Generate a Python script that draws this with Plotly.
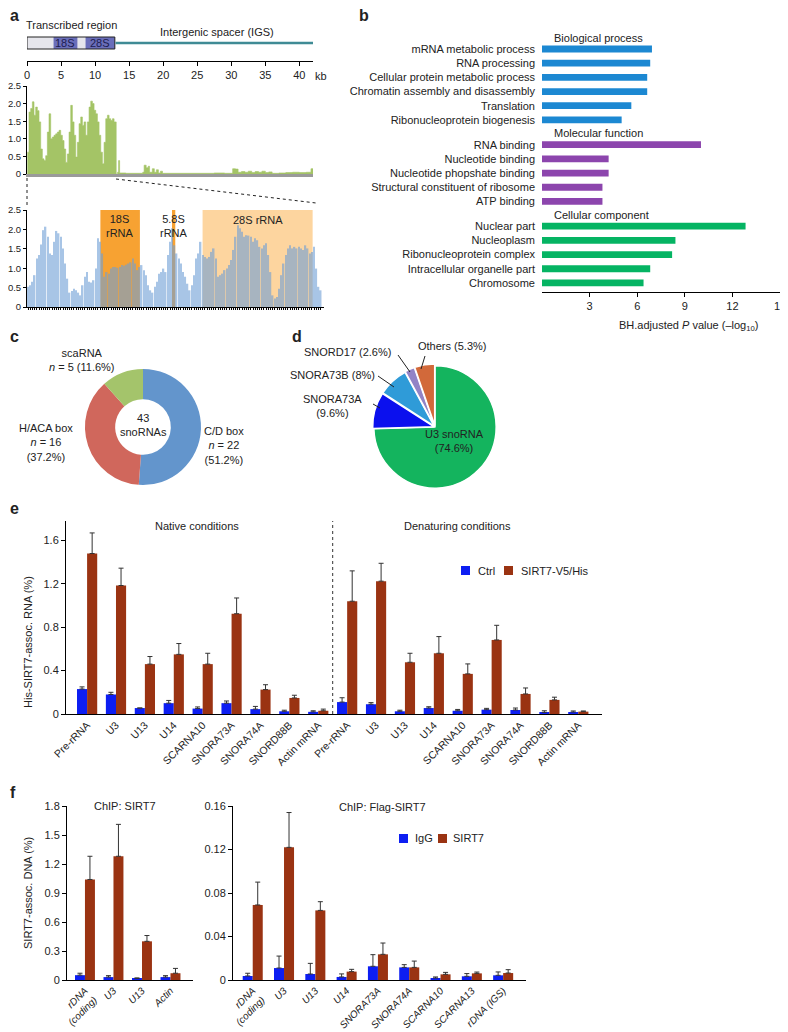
import plotly.graph_objects as go

# the page body keeps its default 8 px margin, so the figure is 8 px smaller and
# every reference pixel position is shifted by that much
OX, OY = 8, 8
W, H = 780, 1024
FONT = "Liberation Sans, Arial, sans-serif"
INK = "#222222"


def fx(px):
    return (px - OX) / W


def fy(py):
    return 1 - (py - OY) / H


# ---------------- panel a: rDNA repeat ----------------
map_tick_kb = [0, 5, 10, 15, 20, 25, 30, 35, 40]
transcribed_kb = [0, 12.9]
block_names = ["18S", "28S"]
block_start_kb = [3.9, 8.6]
block_end_kb = [7.4, 12.9]
igs_span_kb = [13, 42]

# coverage over the transcribed part (0.245 kb steps)
coverage_step_kb = 0.245
coverage_tr = [0.62, 1.76, 1.86, 2.05, 1.67, 1.90, 1.80, 1.48, 0.71, 0.43, 0.38, 0.52,
               1.19, 1.71, 1.00, 1.05, 1.10, 1.14, 1.19, 1.24, 1.10, 0.95, 0.71, 0.33,
               0.57, 1.19, 1.95, 1.48, 1.10, 0.48, 0.90, 1.43, 1.62, 1.38, 1.48, 1.10,
               1.48, 1.90, 2.07, 2.00, 1.81, 1.71, 1.48, 1.10, 0.62, 0.29, 0.90, 1.57,
               1.67, 1.57, 1.52, 1.57, 1.48, 1.48]
# coverage over the intergenic spacer
igs_kb = [13.1, 13.3, 13.45, 13.6, 14.5, 15.5, 16.5, 17.0, 17.2, 17.5, 17.8, 18.0, 18.4,
          18.7, 19.0, 19.3, 19.6, 19.9, 21.0, 23.0, 25.0, 27.5, 29.0, 30.2, 30.6, 31.0,
          31.5, 32.0, 32.5, 33.0, 33.5, 34.0, 34.5, 35.0, 35.5, 36.0, 37.0, 38.0, 39.0,
          40.0, 41.0, 41.7, 42.0]
igs_cov = [0.0, 0.05, 0.38, 0.03, 0.02, 0.02, 0.02, 0.05, 0.25, 0.18, 0.22, 0.05, 0.15,
           0.05, 0.12, 0.03, 0.08, 0.02, 0.02, 0.02, 0.02, 0.03, 0.02, 0.15, 0.14, 0.05,
           0.07, 0.05, 0.08, 0.04, 0.07, 0.05, 0.08, 0.04, 0.06, 0.02, 0.03, 0.04, 0.05,
           0.04, 0.05, 0.15, 0.03]

# zoom on the transcribed region, 0.1 kb bins
zoom_cov = [0.52, 0.56, 0.65, 0.82, 1.25, 1.34, 1.61, 1.98, 2.07, 1.81, 1.38, 1.34, 1.68,
            1.96, 1.90, 1.81, 1.51, 1.12, 0.73, 0.37, 0.41, 0.47, 0.43, 0.37, 0.30, 0.56,
            0.78, 0.90, 0.65, 0.63, 0.69, 0.99, 1.77, 1.68, 1.38, 0.78, 0.90, 0.86, 0.99,
            1.03, 1.03, 1.01, 1.03, 1.08, 1.06, 1.09, 1.12, 1.15, 1.25, 1.12, 0.95, 1.03,
            1.08, 0.95, 0.82, 0.56, 0.43, 0.37, 0.52, 0.65, 0.86, 0.90, 0.99, 0.90, 1.34,
            1.68, 2.03, 1.59, 1.38, 1.25, 1.12, 0.90, 0.78, 0.60, 0.43, 0.56, 0.82, 1.25,
            1.38, 1.68, 1.34, 1.29, 1.25, 1.29, 1.42, 1.51, 1.25, 0.78, 0.82, 0.86, 0.95,
            0.99, 1.08, 1.21, 1.47, 1.81, 2.11, 2.03, 1.94, 1.81, 1.85, 1.84, 1.81, 1.68,
            1.77, 1.72, 1.55, 1.51, 1.59, 1.64, 1.34, 0.90, 0.30, 0.22, 0.26, 0.47, 0.82,
            1.12, 1.34, 1.51, 1.59, 1.51, 1.55, 1.51, 1.55, 1.51, 1.47, 1.59, 1.51, 1.38,
            1.42, 1.55, 0.99, 0.52, 0.43]
rrna_labels = ["18S<br>rRNA", "5.8S<br>rRNA", "28S rRNA"]
rrna_start_kb = [3.36, 6.64, 8.04]
rrna_end_kb = [5.17, 6.79, 13.08]
rrna_colors = ["#f7a232", "#f7a232", "#fdd59f"]

# ---------------- panel b: GO enrichment ----------------
bp_terms = ["mRNA metabolic process", "RNA processing", "Cellular protein metabolic process",
            "Chromatin assembly and disassembly", "Translation", "Ribonucleoprotein biogenesis"]
bp_vals = [6.93, 6.82, 6.63, 6.63, 5.63, 5.02]
mf_terms = ["RNA binding", "Nucleotide binding", "Nucleotide phopshate binding",
            "Structural constituent of ribosome", "ATP binding"]
mf_vals = [10.02, 4.2, 4.2, 3.81, 3.81]
cc_terms = ["Nuclear part", "Nucleoplasm", "Ribonucleoprotein complex",
            "Intracellular organelle part", "Chromosome"]
cc_vals = [12.83, 8.41, 8.2, 6.82, 6.4]

# ---------------- panel c / d ----------------
sno_class = ["C/D box", "H/ACA box", "scaRNA"]
sno_count = [22, 16, 5]
reads_names = ["U3 snoRNA", "SNORA73A", "SNORA73B", "SNORD17", "Others"]
reads_pct = [74.6, 9.6, 8.0, 2.6, 5.3]

# ---------------- panel e ----------------
e_targets = ["Pre-rRNA", "U3", "U13", "U14", "SCARNA10", "SNORA73A", "SNORA74A",
             "SNORD88B", "Actin mRNA"]
nat_ctrl = [0.23, 0.18, 0.055, 0.10, 0.05, 0.10, 0.045, 0.025, 0.02]
nat_ctrl_err = [0.02, 0.02, 0.0, 0.025, 0.015, 0.02, 0.025, 0.01, 0.01]
nat_sirt = [1.48, 1.185, 0.46, 0.55, 0.46, 0.925, 0.225, 0.148, 0.03]
nat_sirt_err = [0.19, 0.16, 0.07, 0.10, 0.10, 0.145, 0.045, 0.025, 0.015]
den_ctrl = [0.11, 0.09, 0.025, 0.055, 0.03, 0.04, 0.037, 0.015, 0.018]
den_ctrl_err = [0.04, 0.015, 0.01, 0.012, 0.012, 0.012, 0.018, 0.015, 0.01]
den_sirt = [1.04, 1.225, 0.477, 0.56, 0.37, 0.683, 0.185, 0.13, 0.022]
den_sirt_err = [0.28, 0.165, 0.083, 0.154, 0.092, 0.135, 0.055, 0.025, 0.006]

# ---------------- panel f ----------------
f1_targets = ["rDNA<br>(coding)", "U3", "U13", "Actin"]
f1_igg = [0.05, 0.03, 0.015, 0.03]
f1_igg_err = [0.02, 0.015, 0.007, 0.015]
f1_sirt = [1.04, 1.28, 0.40, 0.07]
f1_sirt_err = [0.24, 0.33, 0.06, 0.05]
f2_targets = ["rDNA<br>(coding)", "U3", "U13", "U14", "SNORA73A", "SNORA74A", "SCARNA10",
              "SCARNA13", "rDNA (IGS)"]
f2_igg = [0.0037, 0.011, 0.0055, 0.0028, 0.0126, 0.0116, 0.0018, 0.0034, 0.0043]
f2_igg_err = [0.0025, 0.011, 0.0098, 0.0028, 0.0107, 0.0025, 0.001, 0.0025, 0.0031]
f2_sirt = [0.069, 0.122, 0.064, 0.0077, 0.0236, 0.0116, 0.0052, 0.0061, 0.0064]
f2_sirt_err = [0.021, 0.032, 0.008, 0.0021, 0.0104, 0.0058, 0.0018, 0.0012, 0.0031]

BLUE = "#0d1ef2"
BROWN = "#9a3312"
GREEN = "#a4c466"

fig = go.Figure()
shapes = []
ann = []


def text(px, py, s, size=11, xanchor="center", **kw):
    ann.append(dict(x=fx(px), y=fy(py), xref="paper", yref="paper", text=s, showarrow=False,
                    xanchor=xanchor, yanchor="middle",
                    font=dict(size=size, color=INK, family=FONT), **kw))


def pline(x0, y0, x1, y1, dash="solid", color="#222", width=1):
    shapes.append(dict(type="line", xref="paper", yref="paper", x0=fx(x0), y0=fy(y0),
                       x1=fx(x1), y1=fy(y1), line=dict(color=color, width=width, dash=dash)))


def up_err(vals):
    return dict(type="data", array=vals, arrayminus=[0] * len(vals), symmetric=False,
                color="#333", thickness=1, width=2.5)


# ---- a: schematic ----
shapes.append(dict(type="rect", xref="x", yref="paper", x0=transcribed_kb[0], x1=transcribed_kb[1],
                   y0=fy(49), y1=fy(37), fillcolor="#e6e6ec", line=dict(width=0)))
for name, s, e in zip(block_names, block_start_kb, block_end_kb):
    shapes.append(dict(type="rect", xref="x", yref="paper", x0=s, x1=e, y0=fy(49), y1=fy(37),
                       fillcolor="#6a6eba", line=dict(width=0)))
    ann.append(dict(x=(s + e) / 2, y=fy(43), xref="x", yref="paper", text=name, showarrow=False,
                    yanchor="middle", font=dict(size=11, color="#1c1c50", family=FONT)))
shapes.append(dict(type="rect", xref="x", yref="paper", x0=transcribed_kb[0], x1=transcribed_kb[1],
                   y0=fy(49), y1=fy(37), line=dict(color="#222", width=1)))
shapes.append(dict(type="line", xref="x", yref="paper", x0=igs_span_kb[0], x1=igs_span_kb[1],
                   y0=fy(43), y1=fy(43), line=dict(color="#3f8b95", width=2.5)))
text(24, 25, "Transcribed region", xanchor="left")
text(217, 32, "Intergenic spacer (IGS)")
text(321, 76, "kb")

# ---- a: coverage ----
gx = [0.05 + coverage_step_kb * i for i in range(len(coverage_tr))] + igs_kb
gy = coverage_tr + igs_cov
fig.add_trace(go.Scatter(x=gx, y=gy, xaxis="x2", yaxis="y2", mode="lines",
                         line=dict(color=GREEN, width=0.6, shape="hv"), fill="tozeroy",
                         fillcolor=GREEN, hoverinfo="skip", showlegend=False))

zx = [0.05 + 0.1 * i for i in range(len(zoom_cov))]
fig.add_trace(go.Bar(x=zx, y=zoom_cov, xaxis="x3", yaxis="y3", width=0.068,
                     marker=dict(color="#6f9fd6", line=dict(width=0)), opacity=0.6,
                     hoverinfo="skip", showlegend=False))
for lab, s, e, c in zip(rrna_labels, rrna_start_kb, rrna_end_kb, rrna_colors):
    shapes.append(dict(type="rect", xref="x3", yref="y3", x0=s, x1=e, y0=0, y1=2.5,
                       fillcolor=c, line=dict(width=0), layer="below"))
    ann.append(dict(x=(s + e) / 2, y=fy(226 if "<br>" in lab else 220), xref="x3", yref="paper",
                    text=lab, showarrow=False, yanchor="middle",
                    font=dict(size=11, color=INK, family=FONT)))

pline(27, 178, 27, 205, dash="dot", width=1)
pline(116, 179, 316, 203, dash="dot", width=1)

# ---- b: GO terms ----
groups = [(bp_terms, bp_vals, "#1c88d2", "Biological process"),
          (mf_terms, mf_vals, "#8c45ad", "Molecular function"),
          (cc_terms, cc_vals, "#05b463", "Cellular component")]
row = 0.0
tickpos, ticklab = [], []
for terms, vals, col, head in groups:
    pos = [row + i for i in range(len(terms))]
    fig.add_trace(go.Bar(y=pos, x=vals, orientation="h", xaxis="x4", yaxis="y4", width=0.48,
                         marker=dict(color=col, line=dict(width=0)), hoverinfo="skip",
                         showlegend=False))
    ann.append(dict(x=0.6, y=row - 0.8, xref="x4", yref="y4", text=head, showarrow=False,
                    xanchor="left", yanchor="middle", font=dict(size=11, color=INK, family=FONT)))
    tickpos += pos
    ticklab += terms
    row += len(terms) + 0.75
text(688, 326, "BH.adjusted <i>P</i> value (\u2013log<sub>10</sub>)")

# ---- c: snoRNA classes ----
fig.add_trace(go.Pie(values=sno_count, labels=sno_class, hole=0.48, sort=False,
                     direction="clockwise", rotation=0, textinfo="none", hoverinfo="skip",
                     marker=dict(colors=["#6395cc", "#d0675c", "#a4c46b"], line=dict(width=0)),
                     domain=dict(x=[fx(85), fx(201)], y=[fy(485), fy(369)]), showlegend=False))
text(82, 360, "scaRNA<br><i>n</i> = 5 (11.6%)")
text(46, 442, "H/ACA box<br><i>n</i> = 16<br>(37.2%)")
text(224, 445, "C/D box<br><i>n</i> = 22<br>(51.2%)")
text(143, 425, "43<br>snoRNAs")

# ---- d: reads ----
fig.add_trace(go.Pie(values=reads_pct, labels=reads_names, sort=False, direction="clockwise",
                     rotation=0, textinfo="none", hoverinfo="skip", pull=[0, 0.02, 0.02, 0.03, 0.03],
                     marker=dict(colors=["#14b45e", "#0b10ee", "#2f9bd8", "#9283c6", "#d2693a"],
                                 line=dict(color="white", width=1.5)),
                     domain=dict(x=[fx(372), fx(498)], y=[fy(490), fy(364)]), showlegend=False))
text(452, 346, "Others (5.3%)")
text(347, 352, "SNORD17 (2.6%)")
text(332, 375, "SNORA73B (8%)")
text(332, 406, "SNORA73A<br>(9.6%)")
text(455, 441, "U3 snoRNA<br>(74.6%)")
pline(425, 356, 421, 369)
pline(398, 355, 410, 372)
pline(378, 376, 394, 387)
pline(373, 404, 380, 408)

# ---- e: His-SIRT7 pull-down ----
e_x = list(range(2 * len(e_targets)))
fig.add_trace(go.Bar(x=e_x, y=nat_ctrl + den_ctrl, xaxis="x5", yaxis="y5", width=0.35, offset=-0.35,
                     marker=dict(color=BLUE, line=dict(width=0)),
                     error_y=up_err(nat_ctrl_err + den_ctrl_err), showlegend=False))
fig.add_trace(go.Bar(x=e_x, y=nat_sirt + den_sirt, xaxis="x5", yaxis="y5", width=0.35, offset=0,
                     marker=dict(color=BROWN, line=dict(width=0)),
                     error_y=up_err(nat_sirt_err + den_sirt_err), showlegend=False))
shapes.append(dict(type="line", xref="x5", yref="y5", x0=len(e_targets) - 0.5, x1=len(e_targets) - 0.5,
                   y0=0, y1=1.78, line=dict(color="#333", width=1, dash="dot")))
text(197, 526, "Native conditions")
text(458, 526, "Denaturing conditions")
text(28, 642, "His-SIRT7-assoc. RNA (%)", textangle=-90)
shapes.append(dict(type="rect", xref="paper", yref="paper", x0=fx(461), x1=fx(470), y0=fy(575),
                   y1=fy(566), fillcolor=BLUE, line=dict(width=0)))
shapes.append(dict(type="rect", xref="paper", yref="paper", x0=fx(504), x1=fx(513), y0=fy(575),
                   y1=fy(566), fillcolor=BROWN, line=dict(width=0)))
text(476, 571, "Ctrl", xanchor="left")
text(519, 571, "SIRT7-V5/His", xanchor="left")

# ---- f: ChIP ----
f1_x = list(range(len(f1_targets)))
fig.add_trace(go.Bar(x=f1_x, y=f1_igg, xaxis="x6", yaxis="y6", width=0.35, offset=-0.35,
                     marker=dict(color=BLUE, line=dict(width=0)), error_y=up_err(f1_igg_err),
                     showlegend=False))
fig.add_trace(go.Bar(x=f1_x, y=f1_sirt, xaxis="x6", yaxis="y6", width=0.35, offset=0,
                     marker=dict(color=BROWN, line=dict(width=0)), error_y=up_err(f1_sirt_err),
                     showlegend=False))
f2_x = list(range(len(f2_targets)))
fig.add_trace(go.Bar(x=f2_x, y=f2_igg, xaxis="x7", yaxis="y7", width=0.32, offset=-0.32,
                     marker=dict(color=BLUE, line=dict(width=0)), error_y=up_err(f2_igg_err),
                     showlegend=False))
fig.add_trace(go.Bar(x=f2_x, y=f2_sirt, xaxis="x7", yaxis="y7", width=0.32, offset=0,
                     marker=dict(color=BROWN, line=dict(width=0)), error_y=up_err(f2_sirt_err),
                     showlegend=False))
text(125, 806, "ChIP: SIRT7")
text(382, 807, "ChIP: Flag-SIRT7")
text(28, 893, "SIRT7-assoc. DNA (%)", textangle=-90)
shapes.append(dict(type="rect", xref="paper", yref="paper", x0=fx(399), x1=fx(408), y0=fy(843),
                   y1=fy(834), fillcolor=BLUE, line=dict(width=0)))
shapes.append(dict(type="rect", xref="paper", yref="paper", x0=fx(438), x1=fx(447), y0=fy(843),
                   y1=fy(834), fillcolor=BROWN, line=dict(width=0)))
text(413, 838, "IgG", xanchor="left")
text(451, 838, "SIRT7", xanchor="left")

# panel letters (none can sit closer to the edge than the page margin)
for letter, px, py in [("a", 8, 15), ("b", 357, 15), ("c", 8, 336), ("d", 290, 336),
                       ("e", 8, 508), ("f", 8, 792)]:
    text(px, py, "<b>%s</b>" % letter, size=16, xanchor="left")


def italic(labels):
    return ["<br>".join("<i>%s</i>" % p for p in s.split("<br>")) for s in labels]


base = dict(showline=True, linecolor="black", linewidth=1, showgrid=False, zeroline=False,
            ticks="outside", ticklen=4, tickcolor="black", tickwidth=1, automargin=False,
            tickfont=dict(size=10.5, color=INK, family=FONT))
hidden = dict(visible=False, showgrid=False, zeroline=False, automargin=False)
small = dict(size=10, color=INK, family=FONT)
mid = dict(size=11, color=INK, family=FONT)
tiny = dict(size=9.5, color=INK, family=FONT)
cov_ticks = dict(tickvals=[0, 0.5, 1, 1.5, 2, 2.5], ticktext=["0", "0.5", "1.0", "1.5", "2.0", "2.5"],
                 ticklen=3, tickfont=tiny)

fig.update_layout(
    width=W, height=H, autosize=False, margin=dict(l=0, r=0, t=0, b=0),
    paper_bgcolor="white", plot_bgcolor="white", barmode="overlay",
    font=dict(family=FONT, color=INK, size=11),
    xaxis=dict(base, domain=[fx(27), fx(313)], range=[0, 42], anchor="y", tickvals=map_tick_kb,
               tickfont=mid),
    yaxis=dict(hidden, domain=[fy(61), fy(30)], range=[0, 1], anchor="x"),
    xaxis2=dict(base, domain=[fx(27), fx(313)], range=[0, 42], anchor="y2", ticks="",
                showticklabels=False, linecolor="#9a9a9a", linewidth=3),
    yaxis2=dict(base, domain=[fy(174), fy(86)], range=[0, 2.5], anchor="x2", **cov_ticks),
    xaxis3=dict(base, domain=[fx(27), fx(324)], range=[0, 13.6], anchor="y3", tickvals=zx,
                ticklen=2, showticklabels=False),
    yaxis3=dict(base, domain=[fy(307), fy(210)], range=[0, 2.5], anchor="x3", **cov_ticks),
    xaxis4=dict(base, domain=[fx(542), fx(780)], range=[0, 15], anchor="y4",
                tickvals=[3, 6, 9, 12, 15], tickfont=mid),
    yaxis4=dict(base, domain=[fy(292), fy(30)], range=[17.14, -1.34], anchor="x4", showline=False,
                ticks="", tickvals=tickpos, ticktext=ticklab, ticklabelstandoff=6, tickfont=mid),
    xaxis5=dict(base, domain=[fx(66), fx(602)], range=[-0.73, 17.82], anchor="y5", ticks="",
                tickvals=e_x, ticktext=e_targets + e_targets, tickangle=-45),
    yaxis5=dict(base, domain=[fy(714), fy(521)], range=[0, 1.78], anchor="x5",
                tickvals=[0, 0.4, 0.8, 1.2, 1.6], ticktext=["0", "0.4", "0.8", "1.2", "1.6"],
                tickfont=mid),
    xaxis6=dict(base, domain=[fx(67), fx(193)], range=[-0.63, 3.79], anchor="y6", ticks="",
                tickvals=f1_x, ticktext=italic(f1_targets), tickangle=-45, tickfont=small),
    yaxis6=dict(base, domain=[fy(980), fy(806)], range=[0, 1.8], anchor="x6",
                tickvals=[0, 0.3, 0.6, 0.9, 1.2, 1.5, 1.8],
                ticktext=["0", "0.3", "0.6", "0.9", "1.2", "1.5", "1.8"], tickfont=mid),
    xaxis7=dict(base, domain=[fx(233), fx(526)], range=[-0.63, 8.73], anchor="y7", ticks="",
                tickvals=f2_x, ticktext=italic(f2_targets), tickangle=-45, tickfont=small),
    yaxis7=dict(base, domain=[fy(980), fy(806)], range=[0, 0.16], anchor="x7",
                tickvals=[0, 0.04, 0.08, 0.12, 0.16], ticktext=["0", "0.04", "0.08", "0.12", "0.16"],
                tickfont=mid),
    shapes=shapes,
    annotations=ann,
)

fig.write_html("out.html")
